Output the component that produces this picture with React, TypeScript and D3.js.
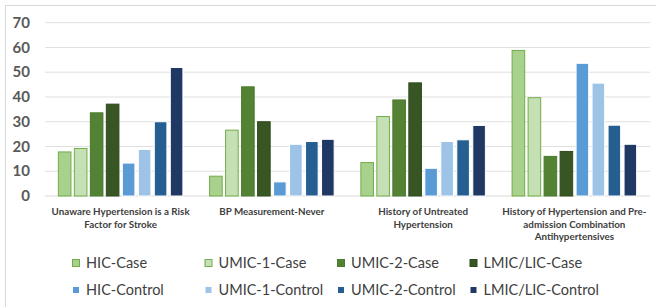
import React from "react";
import * as d3 from "d3";

const categories = [
  ["Unaware Hypertension is a Risk", "Factor for Stroke"],
  ["BP Measurement-Never"],
  ["History of Untreated", "Hypertension"],
  ["History of Hypertension and Pre-", "admission Combination", "Antihypertensives"],
];

const seriesNames = [
  "HIC-Case",
  "UMIC-1-Case",
  "UMIC-2-Case",
  "LMIC/LIC-Case",
  "HIC-Control",
  "UMIC-1-Control",
  "UMIC-2-Control",
  "LMIC/LIC-Control",
];

// values per series, one per category
const hicCase = [18, 8.2, 13.7, 59];
const umic1Case = [19.4, 26.8, 32.3, 39.9];
const umic2Case = [33.8, 44.3, 39, 16.2];
const lmicCase = [37.3, 30.2, 45.9, 18.2];
const hicControl = [13.5, 5.9, 11.4, 53.8];
const umic1Control = [19, 21.1, 22.2, 45.8];
const umic2Control = [30.2, 22.2, 22.9, 28.8];
const lmicControl = [52.1, 23.1, 28.7, 21.1];

const seriesValues = [hicCase, umic1Case, umic2Case, lmicCase, hicControl, umic1Control, umic2Control, lmicControl];

const yTicks = [0, 10, 20, 30, 40, 50, 60, 70];

const fills = ["#a9d18e", "#c5e0b4", "#548235", "#375623", "#5b9bd5", "#9dc3e6", "#255e91", "#203864"];
const strokes = ["#70ad47", "#70ad47", "#4a7a2c", "#2f4a1e", "#ffffff", "#ffffff", "#ffffff", "#ffffff"];

export default function App() {
  const W = 656;
  const H = 307;
  const x0 = d3.scaleBand<number>().domain(d3.range(categories.length)).range([45, 650]).paddingInner(0.17).paddingOuter(0.085);
  const x1 = d3.scaleBand<number>().domain(d3.range(seriesNames.length)).range([0, x0.bandwidth()]).paddingInner(0.15);
  const y = d3.scaleLinear().domain([0, 70]).range([196, 22.7]);

  return (
    <svg width={W} height={H} style={{ position: "absolute", left: 0, top: 0, fontFamily: "Lato, 'Open Sans', sans-serif" }}>
      <rect x={5.5} y={5.5} width={W} height={H} fill="#fff" stroke="#d9d9d9" />
      {yTicks.map(t => (
        <g key={t}>
          {t > 0 && <line x1={45} x2={650} y1={y(t)} y2={y(t)} stroke="#e0e0e0" strokeWidth={1} />}
          <text x={30} y={y(t)} dy="0.35em" textAnchor="end" fontSize={15} fontWeight={700} fill="#595959">{t}</text>
        </g>
      ))}
      <line x1={45} x2={650} y1={y(0)} y2={y(0)} stroke="#d9d9d9" />
      {categories.map((c, i) => (
        <g key={i} transform={`translate(${x0(i)},0)`}>
          {seriesValues.map((vals, s) => (
            <rect
              key={s}
              x={x1(s)! + 0.5}
              y={y(vals[i]) + 0.5}
              width={x1.bandwidth() - 1}
              height={y(0) - y(vals[i]) - 0.5}
              fill={fills[s]}
              stroke={strokes[s]}
              strokeWidth={1}
            />
          ))}
          {c.map((line, k) => (
            <text key={k} x={x0.bandwidth() / 2} y={215 + k * 12.6} textAnchor="middle" fontSize={9.8} fontWeight={700} fill="#404040">{line}</text>
          ))}
        </g>
      ))}
      {seriesNames.map((n, s) => {
        const col = s % 4;
        const row = Math.floor(s / 4);
        const lx = 72 + col * 132.5;
        const ly = 263 + row * 27;
        return (
          <g key={n}>
            <rect x={lx + 0.5} y={ly - 3.5} width={7} height={7} fill={fills[s]} stroke={strokes[s]} />
            <text x={lx + 14} y={ly} dy="0.35em" fontSize={14.5} fill="#404040">{n}</text>
          </g>
        );
      })}
    </svg>
  );
}
